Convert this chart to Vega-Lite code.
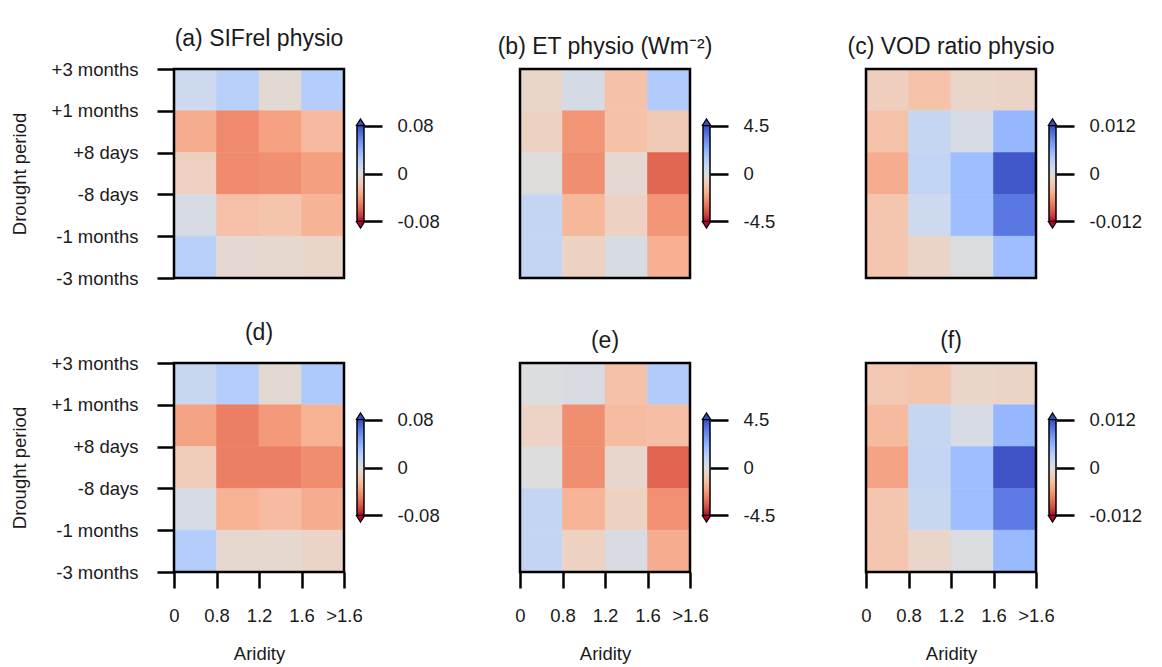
{
"$schema":"https://vega.github.io/schema/vega-lite/v6.json",
"background":"white",
"padding":{"left":10,"top":28,"right":5,"bottom":5},
"bounds":"flush",
"align":"each",
"columns":8,
"spacing":{"row":85,"column":13},
"config":{
 "font":"Liberation Sans",
 "view":{"stroke":null},
 "axis":{"labelFont":"Liberation Sans","labelFontSize":18.5,"labelColor":"#1a1a1a","tickColor":"black","tickWidth":2.5,"domain":false,"grid":false,"labelFlush":false,"labelOverlap":false,"titleFont":"Liberation Sans","titleFontSize":18.5,"titleFontWeight":"normal","titleColor":"#1a1a1a"},
 "title":{"font":"Liberation Sans","fontSize":23,"fontWeight":"normal","color":"#1a1a1a","offset":9}
},
"datasets":{"heat":[
{"panel":"a","ar0":0,"ar1":1,"dp0":4,"dp1":5,"v":0.01},{"panel":"a","ar0":1,"ar1":2,"dp0":4,"dp1":5,"v":0.02},{"panel":"a","ar0":2,"ar1":3,"dp0":4,"dp1":5,"v":-0.004},{"panel":"a","ar0":3,"ar1":4,"dp0":4,"dp1":5,"v":0.022},
{"panel":"a","ar0":0,"ar1":1,"dp0":3,"dp1":4,"v":-0.032},{"panel":"a","ar0":1,"ar1":2,"dp0":3,"dp1":4,"v":-0.046},{"panel":"a","ar0":2,"ar1":3,"dp0":3,"dp1":4,"v":-0.037},{"panel":"a","ar0":3,"ar1":4,"dp0":3,"dp1":4,"v":-0.026},
{"panel":"a","ar0":0,"ar1":1,"dp0":2,"dp1":3,"v":-0.012},{"panel":"a","ar0":1,"ar1":2,"dp0":2,"dp1":3,"v":-0.046},{"panel":"a","ar0":2,"ar1":3,"dp0":2,"dp1":3,"v":-0.044},{"panel":"a","ar0":3,"ar1":4,"dp0":2,"dp1":3,"v":-0.038},
{"panel":"a","ar0":0,"ar1":1,"dp0":1,"dp1":2,"v":0.004},{"panel":"a","ar0":1,"ar1":2,"dp0":1,"dp1":2,"v":-0.022},{"panel":"a","ar0":2,"ar1":3,"dp0":1,"dp1":2,"v":-0.02},{"panel":"a","ar0":3,"ar1":4,"dp0":1,"dp1":2,"v":-0.029},
{"panel":"a","ar0":0,"ar1":1,"dp0":0,"dp1":1,"v":0.02},{"panel":"a","ar0":1,"ar1":2,"dp0":0,"dp1":1,"v":-0.005},{"panel":"a","ar0":2,"ar1":3,"dp0":0,"dp1":1,"v":-0.006},{"panel":"a","ar0":3,"ar1":4,"dp0":0,"dp1":1,"v":-0.008},

{"panel":"b","ar0":0,"ar1":1,"dp0":4,"dp1":5,"v":-0.45},{"panel":"b","ar0":1,"ar1":2,"dp0":4,"dp1":5,"v":0.25},{"panel":"b","ar0":2,"ar1":3,"dp0":4,"dp1":5,"v":-1.2},{"panel":"b","ar0":3,"ar1":4,"dp0":4,"dp1":5,"v":1.35},
{"panel":"b","ar0":0,"ar1":1,"dp0":3,"dp1":4,"v":-0.65},{"panel":"b","ar0":1,"ar1":2,"dp0":3,"dp1":4,"v":-2.35},{"panel":"b","ar0":2,"ar1":3,"dp0":3,"dp1":4,"v":-1.2},{"panel":"b","ar0":3,"ar1":4,"dp0":3,"dp1":4,"v":-0.9},
{"panel":"b","ar0":0,"ar1":1,"dp0":2,"dp1":3,"v":-0.05},{"panel":"b","ar0":1,"ar1":2,"dp0":2,"dp1":3,"v":-2.5},{"panel":"b","ar0":2,"ar1":3,"dp0":2,"dp1":3,"v":-0.3},{"panel":"b","ar0":3,"ar1":4,"dp0":2,"dp1":3,"v":-3.25},
{"panel":"b","ar0":0,"ar1":1,"dp0":1,"dp1":2,"v":0.8},{"panel":"b","ar0":1,"ar1":2,"dp0":1,"dp1":2,"v":-1.5},{"panel":"b","ar0":2,"ar1":3,"dp0":1,"dp1":2,"v":-0.6},{"panel":"b","ar0":3,"ar1":4,"dp0":1,"dp1":2,"v":-2.35},
{"panel":"b","ar0":0,"ar1":1,"dp0":0,"dp1":1,"v":0.8},{"panel":"b","ar0":1,"ar1":2,"dp0":0,"dp1":1,"v":-0.65},{"panel":"b","ar0":2,"ar1":3,"dp0":0,"dp1":1,"v":0.2},{"panel":"b","ar0":3,"ar1":4,"dp0":0,"dp1":1,"v":-1.7},

{"panel":"c","ar0":0,"ar1":1,"dp0":4,"dp1":5,"v":-0.002},{"panel":"c","ar0":1,"ar1":2,"dp0":4,"dp1":5,"v":-0.0031},{"panel":"c","ar0":2,"ar1":3,"dp0":4,"dp1":5,"v":-0.0012},{"panel":"c","ar0":3,"ar1":4,"dp0":4,"dp1":5,"v":-0.0014},
{"panel":"c","ar0":0,"ar1":1,"dp0":3,"dp1":4,"v":-0.0031},{"panel":"c","ar0":1,"ar1":2,"dp0":3,"dp1":4,"v":0.002},{"panel":"c","ar0":2,"ar1":3,"dp0":3,"dp1":4,"v":0.0006},{"panel":"c","ar0":3,"ar1":4,"dp0":3,"dp1":4,"v":0.0054},
{"panel":"c","ar0":0,"ar1":1,"dp0":2,"dp1":3,"v":-0.0048},{"panel":"c","ar0":1,"ar1":2,"dp0":2,"dp1":3,"v":0.0023},{"panel":"c","ar0":2,"ar1":3,"dp0":2,"dp1":3,"v":0.0048},{"panel":"c","ar0":3,"ar1":4,"dp0":2,"dp1":3,"v":0.0114},
{"panel":"c","ar0":0,"ar1":1,"dp0":1,"dp1":2,"v":-0.0028},{"panel":"c","ar0":1,"ar1":2,"dp0":1,"dp1":2,"v":0.0015},{"panel":"c","ar0":2,"ar1":3,"dp0":1,"dp1":2,"v":0.0048},{"panel":"c","ar0":3,"ar1":4,"dp0":1,"dp1":2,"v":0.0096},
{"panel":"c","ar0":0,"ar1":1,"dp0":0,"dp1":1,"v":-0.0028},{"panel":"c","ar0":1,"ar1":2,"dp0":0,"dp1":1,"v":-0.0013},{"panel":"c","ar0":2,"ar1":3,"dp0":0,"dp1":1,"v":0.0002},{"panel":"c","ar0":3,"ar1":4,"dp0":0,"dp1":1,"v":0.0048},

{"panel":"d","ar0":0,"ar1":1,"dp0":4,"dp1":5,"v":0.012},{"panel":"d","ar0":1,"ar1":2,"dp0":4,"dp1":5,"v":0.022},{"panel":"d","ar0":2,"ar1":3,"dp0":4,"dp1":5,"v":-0.004},{"panel":"d","ar0":3,"ar1":4,"dp0":4,"dp1":5,"v":0.025},
{"panel":"d","ar0":0,"ar1":1,"dp0":3,"dp1":4,"v":-0.036},{"panel":"d","ar0":1,"ar1":2,"dp0":3,"dp1":4,"v":-0.05},{"panel":"d","ar0":2,"ar1":3,"dp0":3,"dp1":4,"v":-0.04},{"panel":"d","ar0":3,"ar1":4,"dp0":3,"dp1":4,"v":-0.03},
{"panel":"d","ar0":0,"ar1":1,"dp0":2,"dp1":3,"v":-0.014},{"panel":"d","ar0":1,"ar1":2,"dp0":2,"dp1":3,"v":-0.05},{"panel":"d","ar0":2,"ar1":3,"dp0":2,"dp1":3,"v":-0.05},{"panel":"d","ar0":3,"ar1":4,"dp0":2,"dp1":3,"v":-0.045},
{"panel":"d","ar0":0,"ar1":1,"dp0":1,"dp1":2,"v":0.004},{"panel":"d","ar0":1,"ar1":2,"dp0":1,"dp1":2,"v":-0.03},{"panel":"d","ar0":2,"ar1":3,"dp0":1,"dp1":2,"v":-0.025},{"panel":"d","ar0":3,"ar1":4,"dp0":1,"dp1":2,"v":-0.032},
{"panel":"d","ar0":0,"ar1":1,"dp0":0,"dp1":1,"v":0.022},{"panel":"d","ar0":1,"ar1":2,"dp0":0,"dp1":1,"v":-0.006},{"panel":"d","ar0":2,"ar1":3,"dp0":0,"dp1":1,"v":-0.006},{"panel":"d","ar0":3,"ar1":4,"dp0":0,"dp1":1,"v":-0.009},

{"panel":"e","ar0":0,"ar1":1,"dp0":4,"dp1":5,"v":0.05},{"panel":"e","ar0":1,"ar1":2,"dp0":4,"dp1":5,"v":0.15},{"panel":"e","ar0":2,"ar1":3,"dp0":4,"dp1":5,"v":-1.2},{"panel":"e","ar0":3,"ar1":4,"dp0":4,"dp1":5,"v":1.3},
{"panel":"e","ar0":0,"ar1":1,"dp0":3,"dp1":4,"v":-0.55},{"panel":"e","ar0":1,"ar1":2,"dp0":3,"dp1":4,"v":-2.5},{"panel":"e","ar0":2,"ar1":3,"dp0":3,"dp1":4,"v":-1.35},{"panel":"e","ar0":3,"ar1":4,"dp0":3,"dp1":4,"v":-1.3},
{"panel":"e","ar0":0,"ar1":1,"dp0":2,"dp1":3,"v":0},{"panel":"e","ar0":1,"ar1":2,"dp0":2,"dp1":3,"v":-2.5},{"panel":"e","ar0":2,"ar1":3,"dp0":2,"dp1":3,"v":-0.4},{"panel":"e","ar0":3,"ar1":4,"dp0":2,"dp1":3,"v":-3.3},
{"panel":"e","ar0":0,"ar1":1,"dp0":1,"dp1":2,"v":0.8},{"panel":"e","ar0":1,"ar1":2,"dp0":1,"dp1":2,"v":-1.6},{"panel":"e","ar0":2,"ar1":3,"dp0":1,"dp1":2,"v":-0.65},{"panel":"e","ar0":3,"ar1":4,"dp0":1,"dp1":2,"v":-2.45},
{"panel":"e","ar0":0,"ar1":1,"dp0":0,"dp1":1,"v":0.8},{"panel":"e","ar0":1,"ar1":2,"dp0":0,"dp1":1,"v":-0.65},{"panel":"e","ar0":2,"ar1":3,"dp0":0,"dp1":1,"v":0.15},{"panel":"e","ar0":3,"ar1":4,"dp0":0,"dp1":1,"v":-1.8},

{"panel":"f","ar0":0,"ar1":1,"dp0":4,"dp1":5,"v":-0.0026},{"panel":"f","ar0":1,"ar1":2,"dp0":4,"dp1":5,"v":-0.003},{"panel":"f","ar0":2,"ar1":3,"dp0":4,"dp1":5,"v":-0.0012},{"panel":"f","ar0":3,"ar1":4,"dp0":4,"dp1":5,"v":-0.0013},
{"panel":"f","ar0":0,"ar1":1,"dp0":3,"dp1":4,"v":-0.0038},{"panel":"f","ar0":1,"ar1":2,"dp0":3,"dp1":4,"v":0.002},{"panel":"f","ar0":2,"ar1":3,"dp0":3,"dp1":4,"v":0.0006},{"panel":"f","ar0":3,"ar1":4,"dp0":3,"dp1":4,"v":0.0054},
{"panel":"f","ar0":0,"ar1":1,"dp0":2,"dp1":3,"v":-0.0054},{"panel":"f","ar0":1,"ar1":2,"dp0":2,"dp1":3,"v":0.0022},{"panel":"f","ar0":2,"ar1":3,"dp0":2,"dp1":3,"v":0.0048},{"panel":"f","ar0":3,"ar1":4,"dp0":2,"dp1":3,"v":0.0116},
{"panel":"f","ar0":0,"ar1":1,"dp0":1,"dp1":2,"v":-0.0028},{"panel":"f","ar0":1,"ar1":2,"dp0":1,"dp1":2,"v":0.0018},{"panel":"f","ar0":2,"ar1":3,"dp0":1,"dp1":2,"v":0.0048},{"panel":"f","ar0":3,"ar1":4,"dp0":1,"dp1":2,"v":0.0094},
{"panel":"f","ar0":0,"ar1":1,"dp0":0,"dp1":1,"v":-0.0028},{"panel":"f","ar0":1,"ar1":2,"dp0":0,"dp1":1,"v":-0.0012},{"panel":"f","ar0":2,"ar1":3,"dp0":0,"dp1":1,"v":0.0003},{"panel":"f","ar0":3,"ar1":4,"dp0":0,"dp1":1,"v":0.0052}
]},
"resolve":{"scale":{"x":"independent","y":"independent","color":"independent","stroke":"independent"}},
"concat":[
  {"width":170,"height":209,"title":{"text":"(a) SIFrel physio"},
   "layer":[
    {"data":{"name":"heat"},"transform":[{"filter":"datum.panel === 'a'"}],"mark":{"type":"rect","strokeWidth":0.6},
     "encoding":{"x":{"field":"ar0","type":"quantitative","scale":{"domain":[0,4],"nice":false,"zero":false},"axis":null},"x2":{"field":"ar1"},
      "y":{"field":"dp0","type":"quantitative","scale":{"domain":[0,5],"nice":false,"zero":false},"axis":{"values":[0,1,2,3,4,5],"labelExpr":"['-3 months','-1 months','-8 days','+8 days','+1 months','+3 months'][datum.value]","title":"Drought period","tickSize":17,"labelPadding":19,"titlePadding":22}},"y2":{"field":"dp1"},
      "color":{"field":"v","type":"quantitative","scale":{"domain":[-0.08,-0.07,-0.06,-0.05,-0.04,-0.03,-0.02,-0.01,0,0.01,0.02,0.03,0.04,0.05,0.06,0.07,0.08],"range":["#b40426","#cb3e38","#de604d","#ec7f63","#f49a7b","#f7b193","#f5c4ac","#ecd3c5","#dddddd","#ccd9ee","#b8d0f9","#a3c2ff","#8db0fe","#779af7","#6282ea","#4d68d7","#3b4cc0"],"interpolate":"rgb","clamp":true},"legend":null},
      "stroke":{"field":"v","type":"quantitative","scale":{"domain":[-0.08,-0.07,-0.06,-0.05,-0.04,-0.03,-0.02,-0.01,0,0.01,0.02,0.03,0.04,0.05,0.06,0.07,0.08],"range":["#b40426","#cb3e38","#de604d","#ec7f63","#f49a7b","#f7b193","#f5c4ac","#ecd3c5","#dddddd","#ccd9ee","#b8d0f9","#a3c2ff","#8db0fe","#779af7","#6282ea","#4d68d7","#3b4cc0"],"interpolate":"rgb","clamp":true},"legend":null}}},
    {"data":{"values":[{}]},"mark":{"type":"rect","filled":false,"stroke":"black","strokeWidth":2.5},
     "encoding":{"x":{"datum":0,"type":"quantitative","axis":null},"x2":{"datum":4},"y":{"datum":0,"type":"quantitative","axis":{"values":[0,1,2,3,4,5],"labelExpr":"['-3 months','-1 months','-8 days','+8 days','+1 months','+3 months'][datum.value]","title":"Drought period","tickSize":17,"labelPadding":19,"titlePadding":22}},"y2":{"datum":5}}}
   ]},
  {"width":7,"height":209,"data":{"values":[{"lo":-0.08,"hi":0.08}]},
   "layer":[
    {"mark":{"type":"rect","stroke":"black","strokeWidth":1.5,"fill":{"gradient":"linear","x1":0,"y1":0,"x2":0,"y2":1,"stops":[{"offset":0,"color":"#3b4cc0"},{"offset":0.0625,"color":"#4d68d7"},{"offset":0.125,"color":"#6282ea"},{"offset":0.1875,"color":"#779af7"},{"offset":0.25,"color":"#8db0fe"},{"offset":0.3125,"color":"#a3c2ff"},{"offset":0.375,"color":"#b8d0f9"},{"offset":0.4375,"color":"#ccd9ee"},{"offset":0.5,"color":"#dddddd"},{"offset":0.5625,"color":"#ecd3c5"},{"offset":0.625,"color":"#f5c4ac"},{"offset":0.6875,"color":"#f7b193"},{"offset":0.75,"color":"#f49a7b"},{"offset":0.8125,"color":"#ec7f63"},{"offset":0.875,"color":"#de604d"},{"offset":0.9375,"color":"#cb3e38"},{"offset":1,"color":"#b40426"}]}},
     "encoding":{"y":{"field":"lo","type":"quantitative","scale":{"domain":[-0.1742,0.1742],"nice":false,"zero":false},"axis":{"orient":"right","values":[-0.08,0,0.08],"labelExpr":"toString(datum.value)","tickSize":18,"labelPadding":15,"title":null}},"y2":{"field":"hi"}}},
    {"mark":{"type":"point","shape":"M-1,0L0,-1.6L1,0Z","filled":true,"fill":"#3b4cc0","stroke":"black","strokeWidth":1.2,"size":70,"opacity":1},"encoding":{"y":{"field":"hi","type":"quantitative","title":null}}},
    {"mark":{"type":"point","shape":"M-1,0L0,1.6L1,0Z","filled":true,"fill":"#b40426","stroke":"black","strokeWidth":1.2,"size":70,"opacity":1},"encoding":{"y":{"field":"lo","type":"quantitative","title":null}}}
   ]},
  {"width":130,"height":209,"data":{"values":[]},"mark":"point"},
  {"width":170,"height":209,"title":{"text":"(b) ET physio (Wm⁻²)"},
   "layer":[
    {"data":{"name":"heat"},"transform":[{"filter":"datum.panel === 'b'"}],"mark":{"type":"rect","strokeWidth":0.6},
     "encoding":{"x":{"field":"ar0","type":"quantitative","scale":{"domain":[0,4],"nice":false,"zero":false},"axis":null},"x2":{"field":"ar1"},
      "y":{"field":"dp0","type":"quantitative","scale":{"domain":[0,5],"nice":false,"zero":false},"axis":null},"y2":{"field":"dp1"},
      "color":{"field":"v","type":"quantitative","scale":{"domain":[-4.5,-3.9375,-3.375,-2.8125,-2.25,-1.6875,-1.125,-0.5625,0,0.5625,1.125,1.6875,2.25,2.8125,3.375,3.9375,4.5],"range":["#b40426","#cb3e38","#de604d","#ec7f63","#f49a7b","#f7b193","#f5c4ac","#ecd3c5","#dddddd","#ccd9ee","#b8d0f9","#a3c2ff","#8db0fe","#779af7","#6282ea","#4d68d7","#3b4cc0"],"interpolate":"rgb","clamp":true},"legend":null},
      "stroke":{"field":"v","type":"quantitative","scale":{"domain":[-4.5,-3.9375,-3.375,-2.8125,-2.25,-1.6875,-1.125,-0.5625,0,0.5625,1.125,1.6875,2.25,2.8125,3.375,3.9375,4.5],"range":["#b40426","#cb3e38","#de604d","#ec7f63","#f49a7b","#f7b193","#f5c4ac","#ecd3c5","#dddddd","#ccd9ee","#b8d0f9","#a3c2ff","#8db0fe","#779af7","#6282ea","#4d68d7","#3b4cc0"],"interpolate":"rgb","clamp":true},"legend":null}}},
    {"data":{"values":[{}]},"mark":{"type":"rect","filled":false,"stroke":"black","strokeWidth":2.5},
     "encoding":{"x":{"datum":0,"type":"quantitative","axis":null},"x2":{"datum":4},"y":{"datum":0,"type":"quantitative","axis":null},"y2":{"datum":5}}}
   ]},
  {"width":7,"height":209,"data":{"values":[{"lo":-4.5,"hi":4.5}]},
   "layer":[
    {"mark":{"type":"rect","stroke":"black","strokeWidth":1.5,"fill":{"gradient":"linear","x1":0,"y1":0,"x2":0,"y2":1,"stops":[{"offset":0,"color":"#3b4cc0"},{"offset":0.0625,"color":"#4d68d7"},{"offset":0.125,"color":"#6282ea"},{"offset":0.1875,"color":"#779af7"},{"offset":0.25,"color":"#8db0fe"},{"offset":0.3125,"color":"#a3c2ff"},{"offset":0.375,"color":"#b8d0f9"},{"offset":0.4375,"color":"#ccd9ee"},{"offset":0.5,"color":"#dddddd"},{"offset":0.5625,"color":"#ecd3c5"},{"offset":0.625,"color":"#f5c4ac"},{"offset":0.6875,"color":"#f7b193"},{"offset":0.75,"color":"#f49a7b"},{"offset":0.8125,"color":"#ec7f63"},{"offset":0.875,"color":"#de604d"},{"offset":0.9375,"color":"#cb3e38"},{"offset":1,"color":"#b40426"}]}},
     "encoding":{"y":{"field":"lo","type":"quantitative","scale":{"domain":[-9.797,9.797],"nice":false,"zero":false},"axis":{"orient":"right","values":[-4.5,0,4.5],"labelExpr":"toString(datum.value)","tickSize":18,"labelPadding":15,"title":null}},"y2":{"field":"hi"}}},
    {"mark":{"type":"point","shape":"M-1,0L0,-1.6L1,0Z","filled":true,"fill":"#3b4cc0","stroke":"black","strokeWidth":1.2,"size":70,"opacity":1},"encoding":{"y":{"field":"hi","type":"quantitative","title":null}}},
    {"mark":{"type":"point","shape":"M-1,0L0,1.6L1,0Z","filled":true,"fill":"#b40426","stroke":"black","strokeWidth":1.2,"size":70,"opacity":1},"encoding":{"y":{"field":"lo","type":"quantitative","title":null}}}
   ]},
  {"width":130,"height":209,"data":{"values":[]},"mark":"point"},
  {"width":170,"height":209,"title":{"text":"(c) VOD ratio physio"},
   "layer":[
    {"data":{"name":"heat"},"transform":[{"filter":"datum.panel === 'c'"}],"mark":{"type":"rect","strokeWidth":0.6},
     "encoding":{"x":{"field":"ar0","type":"quantitative","scale":{"domain":[0,4],"nice":false,"zero":false},"axis":null},"x2":{"field":"ar1"},
      "y":{"field":"dp0","type":"quantitative","scale":{"domain":[0,5],"nice":false,"zero":false},"axis":null},"y2":{"field":"dp1"},
      "color":{"field":"v","type":"quantitative","scale":{"domain":[-0.012,-0.0105,-0.009,-0.0075,-0.006,-0.0045,-0.003,-0.0015,0,0.0015,0.003,0.0045,0.006,0.0075,0.009,0.0105,0.012],"range":["#b40426","#cb3e38","#de604d","#ec7f63","#f49a7b","#f7b193","#f5c4ac","#ecd3c5","#dddddd","#ccd9ee","#b8d0f9","#a3c2ff","#8db0fe","#779af7","#6282ea","#4d68d7","#3b4cc0"],"interpolate":"rgb","clamp":true},"legend":null},
      "stroke":{"field":"v","type":"quantitative","scale":{"domain":[-0.012,-0.0105,-0.009,-0.0075,-0.006,-0.0045,-0.003,-0.0015,0,0.0015,0.003,0.0045,0.006,0.0075,0.009,0.0105,0.012],"range":["#b40426","#cb3e38","#de604d","#ec7f63","#f49a7b","#f7b193","#f5c4ac","#ecd3c5","#dddddd","#ccd9ee","#b8d0f9","#a3c2ff","#8db0fe","#779af7","#6282ea","#4d68d7","#3b4cc0"],"interpolate":"rgb","clamp":true},"legend":null}}},
    {"data":{"values":[{}]},"mark":{"type":"rect","filled":false,"stroke":"black","strokeWidth":2.5},
     "encoding":{"x":{"datum":0,"type":"quantitative","axis":null},"x2":{"datum":4},"y":{"datum":0,"type":"quantitative","axis":null},"y2":{"datum":5}}}
   ]},
  {"width":7,"height":209,"data":{"values":[{"lo":-0.012,"hi":0.012}]},
   "layer":[
    {"mark":{"type":"rect","stroke":"black","strokeWidth":1.5,"fill":{"gradient":"linear","x1":0,"y1":0,"x2":0,"y2":1,"stops":[{"offset":0,"color":"#3b4cc0"},{"offset":0.0625,"color":"#4d68d7"},{"offset":0.125,"color":"#6282ea"},{"offset":0.1875,"color":"#779af7"},{"offset":0.25,"color":"#8db0fe"},{"offset":0.3125,"color":"#a3c2ff"},{"offset":0.375,"color":"#b8d0f9"},{"offset":0.4375,"color":"#ccd9ee"},{"offset":0.5,"color":"#dddddd"},{"offset":0.5625,"color":"#ecd3c5"},{"offset":0.625,"color":"#f5c4ac"},{"offset":0.6875,"color":"#f7b193"},{"offset":0.75,"color":"#f49a7b"},{"offset":0.8125,"color":"#ec7f63"},{"offset":0.875,"color":"#de604d"},{"offset":0.9375,"color":"#cb3e38"},{"offset":1,"color":"#b40426"}]}},
     "encoding":{"y":{"field":"lo","type":"quantitative","scale":{"domain":[-0.02613,0.02613],"nice":false,"zero":false},"axis":{"orient":"right","values":[-0.012,0,0.012],"labelExpr":"toString(datum.value)","tickSize":18,"labelPadding":15,"title":null}},"y2":{"field":"hi"}}},
    {"mark":{"type":"point","shape":"M-1,0L0,-1.6L1,0Z","filled":true,"fill":"#3b4cc0","stroke":"black","strokeWidth":1.2,"size":70,"opacity":1},"encoding":{"y":{"field":"hi","type":"quantitative","title":null}}},
    {"mark":{"type":"point","shape":"M-1,0L0,1.6L1,0Z","filled":true,"fill":"#b40426","stroke":"black","strokeWidth":1.2,"size":70,"opacity":1},"encoding":{"y":{"field":"lo","type":"quantitative","title":null}}}
   ]},
  {"width":170,"height":209,"title":{"text":"(d)"},
   "layer":[
    {"data":{"name":"heat"},"transform":[{"filter":"datum.panel === 'd'"}],"mark":{"type":"rect","strokeWidth":0.6},
     "encoding":{"x":{"field":"ar0","type":"quantitative","scale":{"domain":[0,4],"nice":false,"zero":false},"axis":{"values":[0,1,2,3,4],"labelExpr":"['0','0.8','1.2','1.6','>1.6'][datum.value]","title":"Aridity","tickSize":16,"labelPadding":18,"titlePadding":20}},"x2":{"field":"ar1"},
      "y":{"field":"dp0","type":"quantitative","scale":{"domain":[0,5],"nice":false,"zero":false},"axis":{"values":[0,1,2,3,4,5],"labelExpr":"['-3 months','-1 months','-8 days','+8 days','+1 months','+3 months'][datum.value]","title":"Drought period","tickSize":17,"labelPadding":19,"titlePadding":22}},"y2":{"field":"dp1"},
      "color":{"field":"v","type":"quantitative","scale":{"domain":[-0.08,-0.07,-0.06,-0.05,-0.04,-0.03,-0.02,-0.01,0,0.01,0.02,0.03,0.04,0.05,0.06,0.07,0.08],"range":["#b40426","#cb3e38","#de604d","#ec7f63","#f49a7b","#f7b193","#f5c4ac","#ecd3c5","#dddddd","#ccd9ee","#b8d0f9","#a3c2ff","#8db0fe","#779af7","#6282ea","#4d68d7","#3b4cc0"],"interpolate":"rgb","clamp":true},"legend":null},
      "stroke":{"field":"v","type":"quantitative","scale":{"domain":[-0.08,-0.07,-0.06,-0.05,-0.04,-0.03,-0.02,-0.01,0,0.01,0.02,0.03,0.04,0.05,0.06,0.07,0.08],"range":["#b40426","#cb3e38","#de604d","#ec7f63","#f49a7b","#f7b193","#f5c4ac","#ecd3c5","#dddddd","#ccd9ee","#b8d0f9","#a3c2ff","#8db0fe","#779af7","#6282ea","#4d68d7","#3b4cc0"],"interpolate":"rgb","clamp":true},"legend":null}}},
    {"data":{"values":[{}]},"mark":{"type":"rect","filled":false,"stroke":"black","strokeWidth":2.5},
     "encoding":{"x":{"datum":0,"type":"quantitative","axis":{"values":[0,1,2,3,4],"labelExpr":"['0','0.8','1.2','1.6','>1.6'][datum.value]","title":"Aridity","tickSize":16,"labelPadding":18,"titlePadding":20}},"x2":{"datum":4},"y":{"datum":0,"type":"quantitative","axis":{"values":[0,1,2,3,4,5],"labelExpr":"['-3 months','-1 months','-8 days','+8 days','+1 months','+3 months'][datum.value]","title":"Drought period","tickSize":17,"labelPadding":19,"titlePadding":22}},"y2":{"datum":5}}}
   ]},
  {"width":7,"height":209,"data":{"values":[{"lo":-0.08,"hi":0.08}]},
   "layer":[
    {"mark":{"type":"rect","stroke":"black","strokeWidth":1.5,"fill":{"gradient":"linear","x1":0,"y1":0,"x2":0,"y2":1,"stops":[{"offset":0,"color":"#3b4cc0"},{"offset":0.0625,"color":"#4d68d7"},{"offset":0.125,"color":"#6282ea"},{"offset":0.1875,"color":"#779af7"},{"offset":0.25,"color":"#8db0fe"},{"offset":0.3125,"color":"#a3c2ff"},{"offset":0.375,"color":"#b8d0f9"},{"offset":0.4375,"color":"#ccd9ee"},{"offset":0.5,"color":"#dddddd"},{"offset":0.5625,"color":"#ecd3c5"},{"offset":0.625,"color":"#f5c4ac"},{"offset":0.6875,"color":"#f7b193"},{"offset":0.75,"color":"#f49a7b"},{"offset":0.8125,"color":"#ec7f63"},{"offset":0.875,"color":"#de604d"},{"offset":0.9375,"color":"#cb3e38"},{"offset":1,"color":"#b40426"}]}},
     "encoding":{"y":{"field":"lo","type":"quantitative","scale":{"domain":[-0.1742,0.1742],"nice":false,"zero":false},"axis":{"orient":"right","values":[-0.08,0,0.08],"labelExpr":"toString(datum.value)","tickSize":18,"labelPadding":15,"title":null}},"y2":{"field":"hi"}}},
    {"mark":{"type":"point","shape":"M-1,0L0,-1.6L1,0Z","filled":true,"fill":"#3b4cc0","stroke":"black","strokeWidth":1.2,"size":70,"opacity":1},"encoding":{"y":{"field":"hi","type":"quantitative","title":null}}},
    {"mark":{"type":"point","shape":"M-1,0L0,1.6L1,0Z","filled":true,"fill":"#b40426","stroke":"black","strokeWidth":1.2,"size":70,"opacity":1},"encoding":{"y":{"field":"lo","type":"quantitative","title":null}}}
   ]},
  {"width":130,"height":209,"data":{"values":[]},"mark":"point"},
  {"width":170,"height":209,"title":{"text":"(e)"},
   "layer":[
    {"data":{"name":"heat"},"transform":[{"filter":"datum.panel === 'e'"}],"mark":{"type":"rect","strokeWidth":0.6},
     "encoding":{"x":{"field":"ar0","type":"quantitative","scale":{"domain":[0,4],"nice":false,"zero":false},"axis":{"values":[0,1,2,3,4],"labelExpr":"['0','0.8','1.2','1.6','>1.6'][datum.value]","title":"Aridity","tickSize":16,"labelPadding":18,"titlePadding":20}},"x2":{"field":"ar1"},
      "y":{"field":"dp0","type":"quantitative","scale":{"domain":[0,5],"nice":false,"zero":false},"axis":null},"y2":{"field":"dp1"},
      "color":{"field":"v","type":"quantitative","scale":{"domain":[-4.5,-3.9375,-3.375,-2.8125,-2.25,-1.6875,-1.125,-0.5625,0,0.5625,1.125,1.6875,2.25,2.8125,3.375,3.9375,4.5],"range":["#b40426","#cb3e38","#de604d","#ec7f63","#f49a7b","#f7b193","#f5c4ac","#ecd3c5","#dddddd","#ccd9ee","#b8d0f9","#a3c2ff","#8db0fe","#779af7","#6282ea","#4d68d7","#3b4cc0"],"interpolate":"rgb","clamp":true},"legend":null},
      "stroke":{"field":"v","type":"quantitative","scale":{"domain":[-4.5,-3.9375,-3.375,-2.8125,-2.25,-1.6875,-1.125,-0.5625,0,0.5625,1.125,1.6875,2.25,2.8125,3.375,3.9375,4.5],"range":["#b40426","#cb3e38","#de604d","#ec7f63","#f49a7b","#f7b193","#f5c4ac","#ecd3c5","#dddddd","#ccd9ee","#b8d0f9","#a3c2ff","#8db0fe","#779af7","#6282ea","#4d68d7","#3b4cc0"],"interpolate":"rgb","clamp":true},"legend":null}}},
    {"data":{"values":[{}]},"mark":{"type":"rect","filled":false,"stroke":"black","strokeWidth":2.5},
     "encoding":{"x":{"datum":0,"type":"quantitative","axis":{"values":[0,1,2,3,4],"labelExpr":"['0','0.8','1.2','1.6','>1.6'][datum.value]","title":"Aridity","tickSize":16,"labelPadding":18,"titlePadding":20}},"x2":{"datum":4},"y":{"datum":0,"type":"quantitative","axis":null},"y2":{"datum":5}}}
   ]},
  {"width":7,"height":209,"data":{"values":[{"lo":-4.5,"hi":4.5}]},
   "layer":[
    {"mark":{"type":"rect","stroke":"black","strokeWidth":1.5,"fill":{"gradient":"linear","x1":0,"y1":0,"x2":0,"y2":1,"stops":[{"offset":0,"color":"#3b4cc0"},{"offset":0.0625,"color":"#4d68d7"},{"offset":0.125,"color":"#6282ea"},{"offset":0.1875,"color":"#779af7"},{"offset":0.25,"color":"#8db0fe"},{"offset":0.3125,"color":"#a3c2ff"},{"offset":0.375,"color":"#b8d0f9"},{"offset":0.4375,"color":"#ccd9ee"},{"offset":0.5,"color":"#dddddd"},{"offset":0.5625,"color":"#ecd3c5"},{"offset":0.625,"color":"#f5c4ac"},{"offset":0.6875,"color":"#f7b193"},{"offset":0.75,"color":"#f49a7b"},{"offset":0.8125,"color":"#ec7f63"},{"offset":0.875,"color":"#de604d"},{"offset":0.9375,"color":"#cb3e38"},{"offset":1,"color":"#b40426"}]}},
     "encoding":{"y":{"field":"lo","type":"quantitative","scale":{"domain":[-9.797,9.797],"nice":false,"zero":false},"axis":{"orient":"right","values":[-4.5,0,4.5],"labelExpr":"toString(datum.value)","tickSize":18,"labelPadding":15,"title":null}},"y2":{"field":"hi"}}},
    {"mark":{"type":"point","shape":"M-1,0L0,-1.6L1,0Z","filled":true,"fill":"#3b4cc0","stroke":"black","strokeWidth":1.2,"size":70,"opacity":1},"encoding":{"y":{"field":"hi","type":"quantitative","title":null}}},
    {"mark":{"type":"point","shape":"M-1,0L0,1.6L1,0Z","filled":true,"fill":"#b40426","stroke":"black","strokeWidth":1.2,"size":70,"opacity":1},"encoding":{"y":{"field":"lo","type":"quantitative","title":null}}}
   ]},
  {"width":130,"height":209,"data":{"values":[]},"mark":"point"},
  {"width":170,"height":209,"title":{"text":"(f)"},
   "layer":[
    {"data":{"name":"heat"},"transform":[{"filter":"datum.panel === 'f'"}],"mark":{"type":"rect","strokeWidth":0.6},
     "encoding":{"x":{"field":"ar0","type":"quantitative","scale":{"domain":[0,4],"nice":false,"zero":false},"axis":{"values":[0,1,2,3,4],"labelExpr":"['0','0.8','1.2','1.6','>1.6'][datum.value]","title":"Aridity","tickSize":16,"labelPadding":18,"titlePadding":20}},"x2":{"field":"ar1"},
      "y":{"field":"dp0","type":"quantitative","scale":{"domain":[0,5],"nice":false,"zero":false},"axis":null},"y2":{"field":"dp1"},
      "color":{"field":"v","type":"quantitative","scale":{"domain":[-0.012,-0.0105,-0.009,-0.0075,-0.006,-0.0045,-0.003,-0.0015,0,0.0015,0.003,0.0045,0.006,0.0075,0.009,0.0105,0.012],"range":["#b40426","#cb3e38","#de604d","#ec7f63","#f49a7b","#f7b193","#f5c4ac","#ecd3c5","#dddddd","#ccd9ee","#b8d0f9","#a3c2ff","#8db0fe","#779af7","#6282ea","#4d68d7","#3b4cc0"],"interpolate":"rgb","clamp":true},"legend":null},
      "stroke":{"field":"v","type":"quantitative","scale":{"domain":[-0.012,-0.0105,-0.009,-0.0075,-0.006,-0.0045,-0.003,-0.0015,0,0.0015,0.003,0.0045,0.006,0.0075,0.009,0.0105,0.012],"range":["#b40426","#cb3e38","#de604d","#ec7f63","#f49a7b","#f7b193","#f5c4ac","#ecd3c5","#dddddd","#ccd9ee","#b8d0f9","#a3c2ff","#8db0fe","#779af7","#6282ea","#4d68d7","#3b4cc0"],"interpolate":"rgb","clamp":true},"legend":null}}},
    {"data":{"values":[{}]},"mark":{"type":"rect","filled":false,"stroke":"black","strokeWidth":2.5},
     "encoding":{"x":{"datum":0,"type":"quantitative","axis":{"values":[0,1,2,3,4],"labelExpr":"['0','0.8','1.2','1.6','>1.6'][datum.value]","title":"Aridity","tickSize":16,"labelPadding":18,"titlePadding":20}},"x2":{"datum":4},"y":{"datum":0,"type":"quantitative","axis":null},"y2":{"datum":5}}}
   ]},
  {"width":7,"height":209,"data":{"values":[{"lo":-0.012,"hi":0.012}]},
   "layer":[
    {"mark":{"type":"rect","stroke":"black","strokeWidth":1.5,"fill":{"gradient":"linear","x1":0,"y1":0,"x2":0,"y2":1,"stops":[{"offset":0,"color":"#3b4cc0"},{"offset":0.0625,"color":"#4d68d7"},{"offset":0.125,"color":"#6282ea"},{"offset":0.1875,"color":"#779af7"},{"offset":0.25,"color":"#8db0fe"},{"offset":0.3125,"color":"#a3c2ff"},{"offset":0.375,"color":"#b8d0f9"},{"offset":0.4375,"color":"#ccd9ee"},{"offset":0.5,"color":"#dddddd"},{"offset":0.5625,"color":"#ecd3c5"},{"offset":0.625,"color":"#f5c4ac"},{"offset":0.6875,"color":"#f7b193"},{"offset":0.75,"color":"#f49a7b"},{"offset":0.8125,"color":"#ec7f63"},{"offset":0.875,"color":"#de604d"},{"offset":0.9375,"color":"#cb3e38"},{"offset":1,"color":"#b40426"}]}},
     "encoding":{"y":{"field":"lo","type":"quantitative","scale":{"domain":[-0.02613,0.02613],"nice":false,"zero":false},"axis":{"orient":"right","values":[-0.012,0,0.012],"labelExpr":"toString(datum.value)","tickSize":18,"labelPadding":15,"title":null}},"y2":{"field":"hi"}}},
    {"mark":{"type":"point","shape":"M-1,0L0,-1.6L1,0Z","filled":true,"fill":"#3b4cc0","stroke":"black","strokeWidth":1.2,"size":70,"opacity":1},"encoding":{"y":{"field":"hi","type":"quantitative","title":null}}},
    {"mark":{"type":"point","shape":"M-1,0L0,1.6L1,0Z","filled":true,"fill":"#b40426","stroke":"black","strokeWidth":1.2,"size":70,"opacity":1},"encoding":{"y":{"field":"lo","type":"quantitative","title":null}}}
   ]}
]
}
